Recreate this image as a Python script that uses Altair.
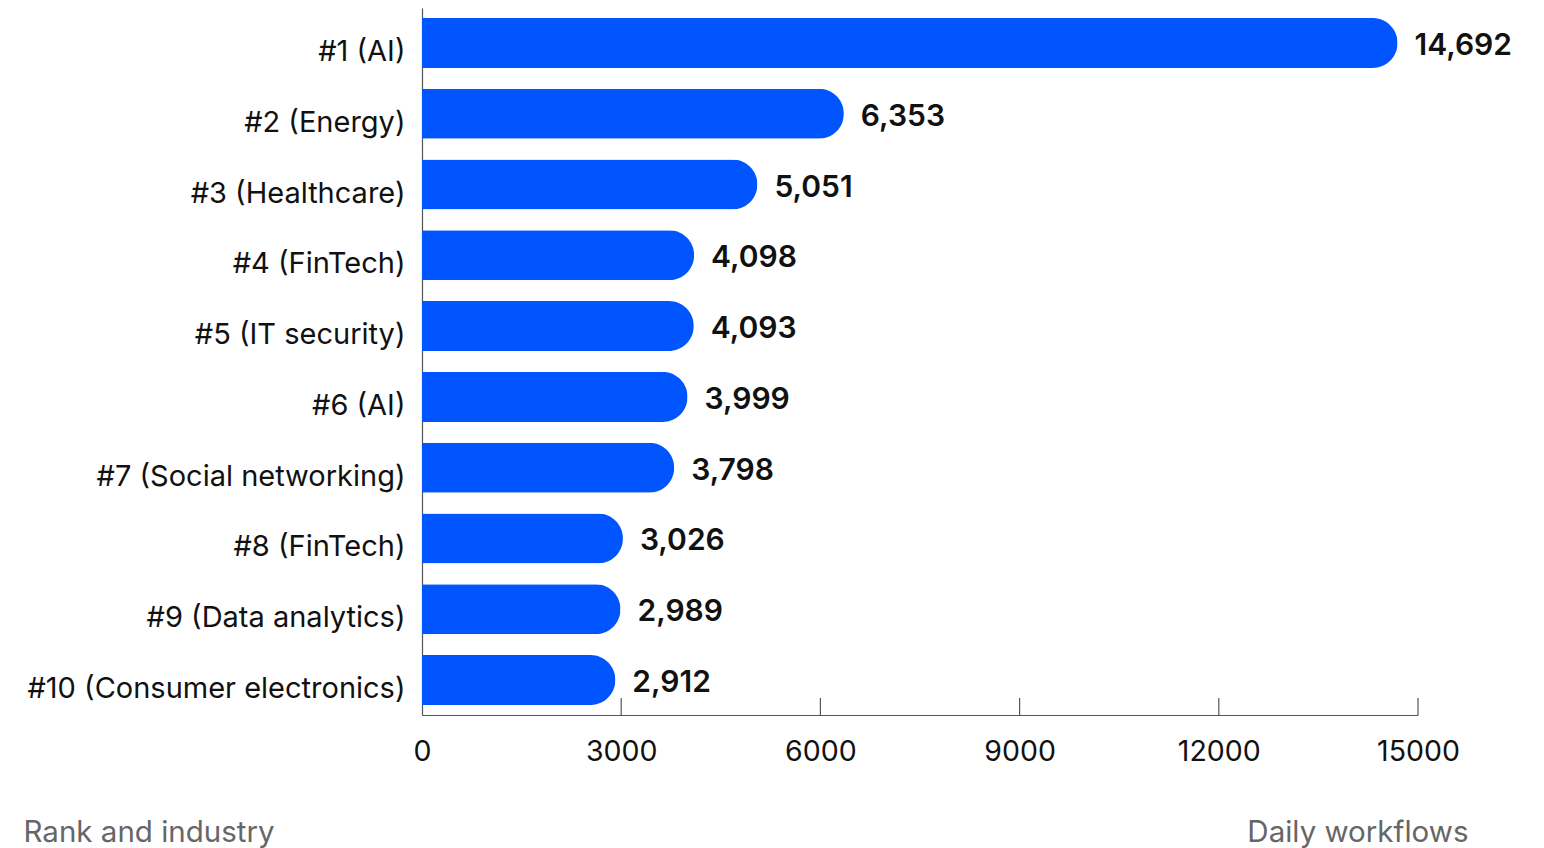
import altair as alt
import pandas as pd

categories = [
    "#1 (AI)", "#2 (Energy)", "#3 (Healthcare)", "#4 (FinTech)",
    "#5 (IT security)", "#6 (AI)", "#7 (Social networking)",
    "#8 (FinTech)", "#9 (Data analytics)", "#10 (Consumer electronics)",
]
workflows = [14692, 6353, 5051, 4098, 4093, 3999, 3798, 3026, 2989, 2912]
tick_values = [0, 3000, 6000, 9000, 12000, 15000]
inner_ticks = [3000, 6000, 9000, 12000, 15000]

df = pd.DataFrame({"rank": categories, "workflows": workflows})
df["label"] = [f"{v:,}" for v in workflows]
ticks_df = pd.DataFrame({"t": inner_ticks})

FONT = "Inter"
BLUE = "#0055FF"
AXIS_GREY = "#555555"

x_scale = alt.Scale(domain=[0, 15000], nice=False)
y_scale = alt.Scale(paddingInner=0.294, paddingOuter=0.141)

base = alt.Chart(df)

bars = base.mark_bar(color=BLUE, cornerRadiusEnd=25).encode(
    x=alt.X(
        "workflows:Q",
        scale=x_scale,
        axis=alt.Axis(
            values=tick_values,
            format="d",
            ticks=False,
            grid=False,
            labelFlush=False,
            labelFont=FONT,
            labelFontSize=28.5,
            labelColor="#111111",
            labelPadding=22,
            domainColor=AXIS_GREY,
            domainWidth=1.2,
            title="Daily workflows",
            titleFont=FONT,
            titleFontSize=29.5,
            titleFontWeight="normal",
            titleColor="#666666",
            titleAnchor="end",
            titleAlign="right",
            titleBaseline="middle",
            titleX=1468 - 422,
            titleY=117,
        ),
    ),
    y=alt.Y(
        "rank:N",
        sort=categories,
        scale=y_scale,
        axis=alt.Axis(
            ticks=False,
            grid=False,
            labelFont=FONT,
            labelFontSize=29,
            labelColor="#111111",
            labelPadding=17,
            labelOffset=9,
            labelLimit=500,
            domainColor=AXIS_GREY,
            domainWidth=1.2,
            title="Rank and industry",
            titleFont=FONT,
            titleFontSize=29.5,
            titleFontWeight="normal",
            titleColor="#666666",
            titleAngle=0,
            titleAlign="left",
            titleBaseline="middle",
            titleX=23 - 422,
            titleY=824,
        ),
    ),
)

values = base.mark_text(
    align="left", baseline="middle", dx=17, dy=3,
    font=FONT, fontSize=30, fontWeight=600, color="#111111",
).encode(
    x=alt.X("workflows:Q", scale=x_scale),
    y=alt.Y("rank:N", sort=categories, scale=y_scale),
    text="label:N",
)

# short upward ticks sitting on the x axis line
ticks = alt.Chart(ticks_df).mark_rule(color=AXIS_GREY, strokeWidth=1.2).encode(
    x=alt.X("t:Q", scale=x_scale),
    y=alt.value(690),
    y2=alt.value(707),
)

chart = (
    alt.layer(bars, values, ticks)
    .properties(
        width=996,
        height=707,
        background="white",
        autosize=alt.AutoSizeParams(type="none"),
        padding={"left": 422, "top": 8, "right": 126, "bottom": 133},
    )
    .configure_view(stroke=None, strokeWidth=0)
)

chart.save("out.html", embed_options={"renderer": "svg", "actions": False})
